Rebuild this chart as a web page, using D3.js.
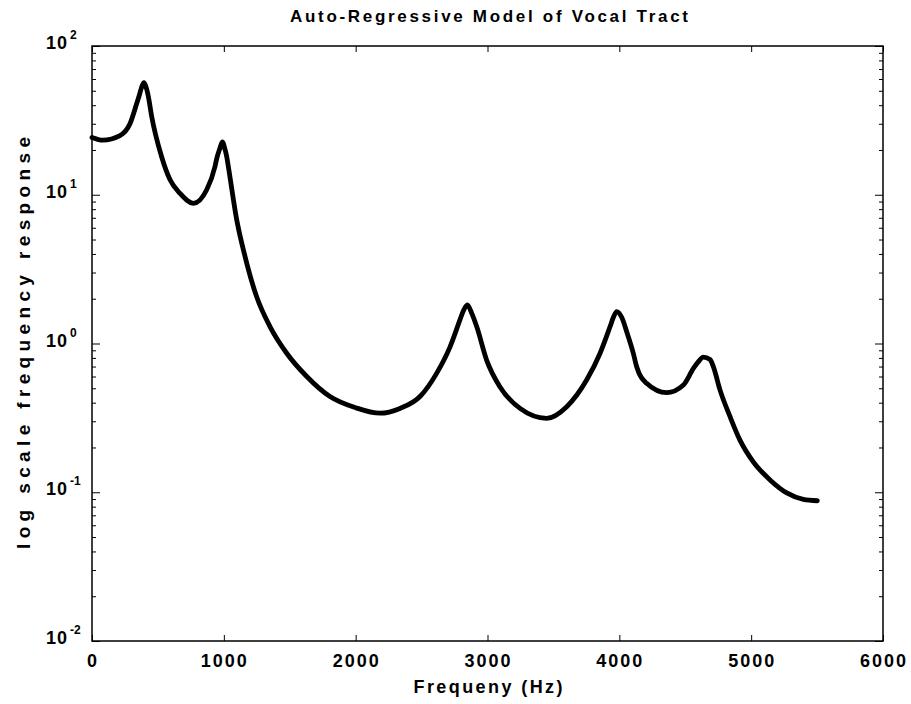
<!DOCTYPE html>
<html>
<head>
<meta charset="utf-8">
<script src="https://cdn.jsdelivr.net/npm/d3@7"></script>
<style>
  body { margin: 0; background: #fff; }
  svg { display: block; }
  text { font-family: "Liberation Sans", Arial, Helvetica, sans-serif; font-weight: bold; fill: #000; }
</style>
</head>
<body>
<svg id="chart" width="911" height="704"></svg>
<script>
// frequency (Hz) and response
var freqHz = [0, 83, 212, 288, 339, 360, 377, 394, 410, 427, 453, 528, 592, 668, 769, 870, 933, 946, 970, 989, 1010, 1022, 1034, 1098, 1161, 1249, 1350, 1477, 1629, 1805, 2000, 2185, 2336, 2488, 2614, 2716, 2791, 2817, 2847, 2880, 2918, 2994, 3095, 3247, 3449, 3601, 3753, 3854, 3930, 3955, 3980, 4018, 4056, 4106, 4131, 4207, 4359, 4486, 4562, 4600, 4637, 4688, 4713, 4764, 4840, 4915, 5016, 5143, 5270, 5396, 5502];
var response = [24.3, 23.3, 25, 30, 41, 47, 53, 56.6, 53, 46, 33.5, 18, 12.6, 10.2, 8.75, 10.8, 15.5, 17.5, 20.5, 22.7, 20, 18, 15.5, 6.76, 3.84, 2.06, 1.30, 0.86, 0.60, 0.44, 0.37, 0.34, 0.366, 0.44, 0.63, 0.95, 1.44, 1.66, 1.82, 1.60, 1.30, 0.77, 0.51, 0.366, 0.314, 0.376, 0.57, 0.86, 1.30, 1.50, 1.64, 1.50, 1.20, 0.86, 0.70, 0.54, 0.467, 0.526, 0.68, 0.755, 0.81, 0.78, 0.70, 0.486, 0.322, 0.224, 0.160, 0.121, 0.099, 0.0896, 0.0877];

var xTicks = [0, 1000, 2000, 3000, 4000, 5000, 6000];
var yTickExp = [-2, -1, 0, 1, 2];

var titleText = "Auto-Regressive Model of Vocal Tract";
var xLabelText = "Frequeny (Hz)";
var yLabelText = "log scale frequency response";

var svg = d3.select("#chart");
// plot box (window.top is read-only, so no bare "top" here)
var plotL = 92, plotR = 883, plotT = 46, plotB = 641;

var x = d3.scaleLinear().domain([0, 6000]).range([plotL, plotR]);
var y = d3.scaleLog().domain([0.01, 100]).range([plotB, plotT]);

// minor log ticks 2..9 in every decade
var yMinor = [];
yTickExp.slice(0, -1).forEach(function (e) {
    for (var k = 2; k <= 9; k++) { yMinor.push(k * Math.pow(10, e)); }
});
var yMajor = yTickExp.map(function (e) { return Math.pow(10, e); });

function tickAxis(axis, tx, ty) {
    var g = svg.append("g").attr("transform", "translate(" + tx + "," + ty + ")").call(axis);
    g.select(".domain").remove();
    g.selectAll("text").remove();
    g.selectAll("line").attr("stroke", "#000").attr("stroke-width", 1);
    return g;
}

// inward ticks on all four sides
tickAxis(d3.axisBottom(x).tickValues(xTicks).tickSize(-6), 0, plotB);
tickAxis(d3.axisTop(x).tickValues(xTicks).tickSize(-6), 0, plotT);
tickAxis(d3.axisLeft(y).tickValues(yMajor).tickSize(-8), plotL, 0);
tickAxis(d3.axisRight(y).tickValues(yMajor).tickSize(-8), plotR, 0);
tickAxis(d3.axisLeft(y).tickValues(yMinor).tickSize(-4), plotL, 0);
tickAxis(d3.axisRight(y).tickValues(yMinor).tickSize(-4), plotR, 0);

// box
svg.append("rect")
    .attr("x", plotL).attr("y", plotT)
    .attr("width", plotR - plotL).attr("height", plotB - plotT)
    .attr("fill", "none").attr("stroke", "#000").attr("stroke-width", 1.5);

// x tick labels
svg.append("g").selectAll("text").data(xTicks).join("text")
    .attr("x", function (d) { return x(d) + 1; })
    .attr("y", 667)
    .attr("text-anchor", "middle")
    .attr("font-size", 18)
    .attr("letter-spacing", 2)
    .text(function (d) { return d; });

// y tick labels 10^e
var yl = svg.append("g").selectAll("g").data(yTickExp).join("g");
yl.append("text")
    .attr("x", 68)
    .attr("y", function (d) { return y(Math.pow(10, d)) + 3; })
    .attr("text-anchor", "end")
    .attr("font-size", 18)
    .attr("letter-spacing", 1)
    .text("10");
yl.append("text")
    .attr("x", 70)
    .attr("y", function (d) { return y(Math.pow(10, d)) - 7; })
    .attr("font-size", 12)
    .text(function (d) { return d; });

// titles
svg.append("text")
    .attr("x", 489).attr("y", 22)
    .attr("text-anchor", "middle")
    .attr("font-size", 17)
    .attr("textLength", 398).attr("lengthAdjust", "spacing")
    .text(titleText);

svg.append("text")
    .attr("x", 488).attr("y", 693)
    .attr("text-anchor", "middle")
    .attr("font-size", 18)
    .attr("textLength", 149).attr("lengthAdjust", "spacing")
    .text(xLabelText);

svg.append("text")
    .attr("transform", "translate(30,343) rotate(-90)")
    .attr("text-anchor", "middle")
    .attr("font-size", 19)
    .attr("textLength", 412).attr("lengthAdjust", "spacing")
    .text(yLabelText);

// response curve
var line = d3.line()
    .x(function (d) { return x(d[0]); })
    .y(function (d) { return y(d[1]); })
    .curve(d3.curveMonotoneX);

svg.append("path")
    .datum(d3.zip(freqHz, response))
    .attr("d", line)
    .attr("fill", "none")
    .attr("stroke", "#000")
    .attr("stroke-width", 4.8)
    .attr("stroke-linejoin", "round")
    .attr("stroke-linecap", "round");
</script>
</body>
</html>
